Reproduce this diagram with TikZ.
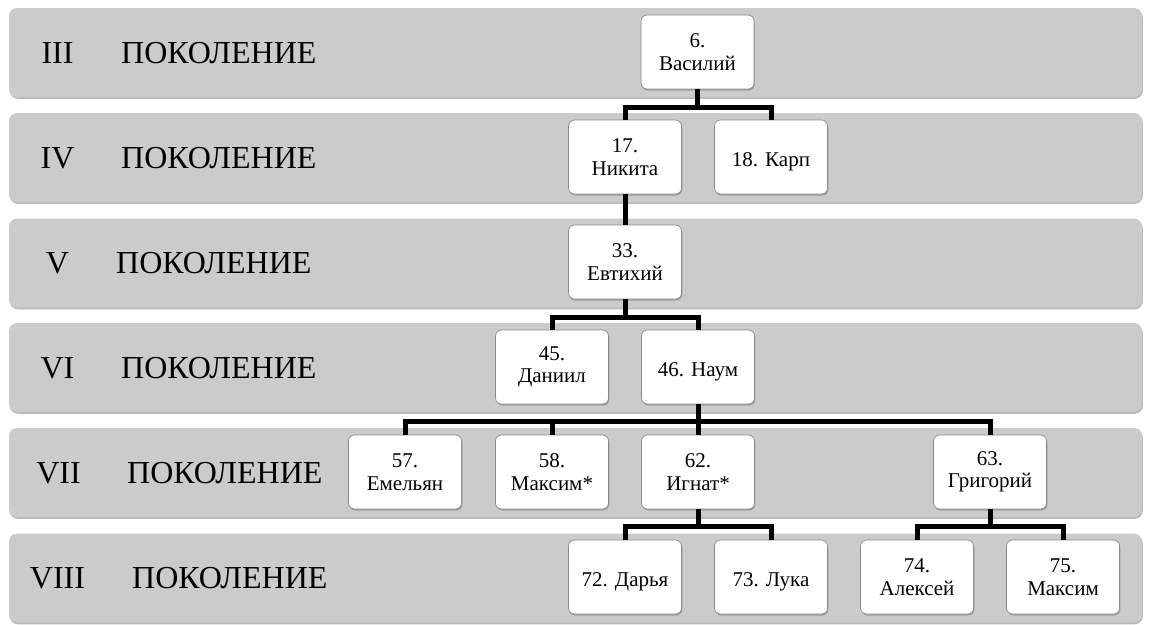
\documentclass[tikz,border=0pt]{standalone}
\usepackage{fontspec}
\setmainfont{Liberation Serif}
\usetikzlibrary{shadows}
\definecolor{bandgray}{HTML}{CBCBCB}
\definecolor{boxline}{HTML}{8A8A8A}
\newcommand{\oneline}[1]{\raisebox{0pt}[18pt][0pt]{#1}}
\tikzset{
  band/.style={fill=bandgray, draw=none, rounded corners=8pt, minimum width=1133pt, minimum height=89pt, inner sep=0pt,
    drop shadow={shadow xshift=0.8pt, shadow yshift=-1.8pt, opacity=0.45, fill=gray!80!black}},
  numlbl/.style={anchor=base, inner sep=0pt, font=\fontsize{32}{36}\selectfont},
  genlbl/.style={anchor=base west, inner sep=0pt, font=\fontsize{32}{36}\selectfont},
  person/.style={fill=white, draw=boxline, line width=0.7pt, rounded corners=6pt, minimum width=113pt, minimum height=74pt,
    inner sep=2pt, align=center, font=\fontsize{21}{22.5}\selectfont,
    drop shadow={shadow xshift=0.8pt, shadow yshift=-1.5pt, opacity=0.4, fill=gray!70!black}},
  conn/.style={line width=5pt, black, line join=miter}
}
\begin{document}
\begin{tikzpicture}[x=1pt,y=-1pt]
\useasboundingbox (0,0) rectangle (1151,624);
% bands
\node[band] (b3) at (575.5,52.5) {};
\node[band] (b4) at (575.5,157.5) {};
\node[band] (b5) at (575.5,263) {};
\node[band] (b6) at (575.5,367.5) {};
\node[band] (b7) at (575.5,472.5) {};
\node[band] (b8) at (575.5,578) {};
% labels
\node[numlbl] (r3) at (57.5,63) {III};
\node[genlbl] (g3) at (121,63) {ПОКОЛЕНИЕ};
\node[numlbl] (r4) at (57.5,168) {IV};
\node[genlbl] (g4) at (121,168) {ПОКОЛЕНИЕ};
\node[numlbl] (r5) at (57.5,273) {V};
\node[genlbl] (g5) at (116,273) {ПОКОЛЕНИЕ};
\node[numlbl] (r6) at (57.5,378) {VI};
\node[genlbl] (g6) at (121,378) {ПОКОЛЕНИЕ};
\node[numlbl] (r7) at (58.5,483) {VII};
\node[genlbl] (g7) at (127,483) {ПОКОЛЕНИЕ};
\node[numlbl] (r8) at (57.5,588) {VIII};
\node[genlbl] (g8) at (132,588) {ПОКОЛЕНИЕ};
% persons
\node[person] (n6) at (697.5,52) {6.\\Василий};
\node[person] (n17) at (625,157) {17.\\Никита};
\node[person] (n18) at (771,157) {\oneline{18. Карп}};
\node[person] (n33) at (625,262) {33.\\Евтихий};
\node[person] (n45) at (552,367) {45.\\Даниил};
\node[person] (n46) at (698,367) {\oneline{46. Наум}};
\node[person] (n57) at (405,472) {57.\\Емельян};
\node[person] (n58) at (552,472) {58.\\Максим*};
\node[person] (n62) at (698,472) {62.\\Игнат*};
\node[person] (n63) at (990,472) {63.\\Григорий};
\node[person] (n72) at (625,577) {\oneline{72. Дарья}};
\node[person] (n73) at (771,577) {\oneline{73. Лука}};
\node[person] (n74) at (917,577) {74.\\Алексей};
\node[person] (n75) at (1063,577) {75.\\Максим};
% junctions
\coordinate (j1) at (697.5,107);
\coordinate (j3) at (625,317);
\coordinate (j4) at (698,421.5);
\coordinate (j5) at (698,526.5);
\coordinate (j6) at (990,526.5);
% connectors
\draw[conn] (n6.south) -- (j1);
\draw[conn] (n17.north) |- (j1) -| (n18.north);
\draw[conn] (n17.south) -- (n33.north);
\draw[conn] (n33.south) -- (j3);
\draw[conn] (n45.north) |- (j3) -| (n46.north);
\draw[conn] (n46.south) -- (n62.north);
\draw[conn] (n57.north) |- (j4) -| (n63.north);
\draw[conn] (n58.north) -- (n58.north |- j4);
\draw[conn] (n62.south) -- (j5);
\draw[conn] (n72.north) |- (j5) -| (n73.north);
\draw[conn] (n63.south) -- (j6);
\draw[conn] (n74.north) |- (j6) -| (n75.north);
\end{tikzpicture}
\end{document}
